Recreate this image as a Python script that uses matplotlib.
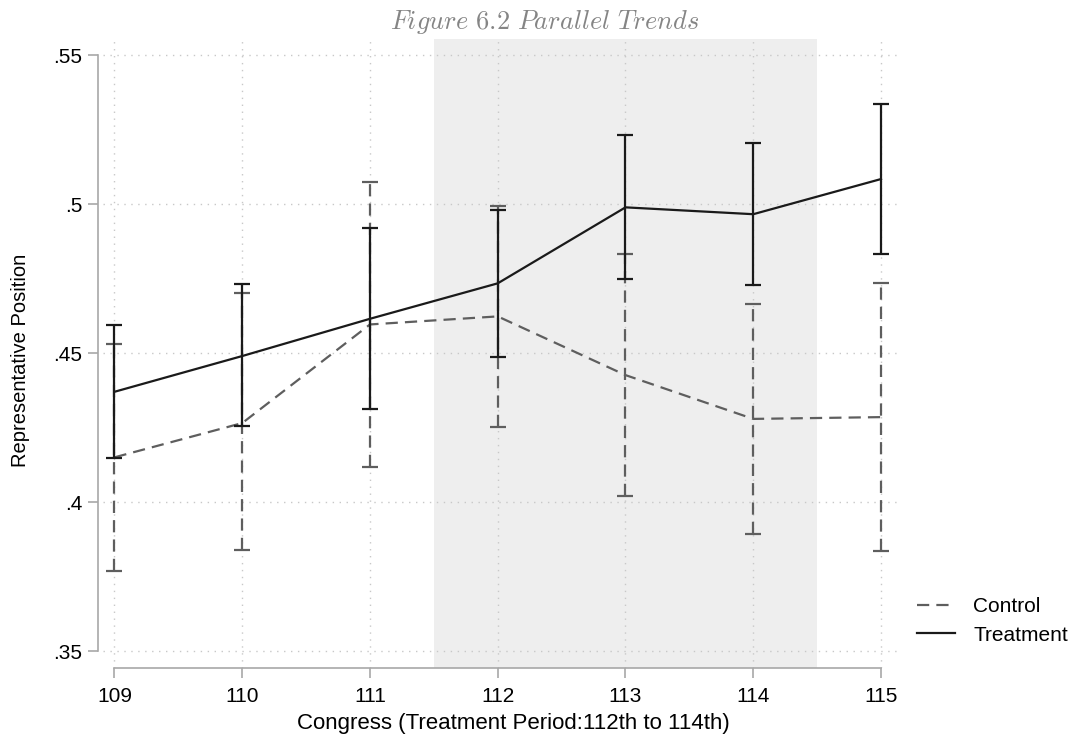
import matplotlib
matplotlib.use("Agg")
import matplotlib.pyplot as plt
from matplotlib.lines import Line2D
import numpy as np

plt.rcParams['font.family'] = ['Liberation Sans', 'DejaVu Sans']
plt.rcParams['mathtext.fontset'] = 'cm'

# Congress sessions and estimated representative positions with 95% CIs
congress = [109, 110, 111, 112, 113, 114, 115]
xtick_labels = ['109', '110', '111', '112', '113', '114', '115']

treat_mean = [0.437, 0.449, 0.4615, 0.4734, 0.4989, 0.4966, 0.5084]
treat_lo = [0.4148, 0.4255, 0.4311, 0.4488, 0.4747, 0.4729, 0.4832]
treat_hi = [0.4594, 0.4732, 0.4920, 0.4981, 0.5232, 0.5204, 0.5336]

ctrl_mean = [0.4150, 0.4265, 0.4596, 0.4623, 0.4426, 0.4279, 0.4285]
ctrl_lo = [0.3768, 0.3840, 0.4116, 0.4251, 0.4019, 0.3894, 0.3835]
ctrl_hi = [0.4531, 0.4700, 0.5075, 0.4994, 0.4832, 0.4664, 0.4736]

yticks = [0.35, 0.40, 0.45, 0.50, 0.55]
ytick_labels = ['.35', '.4', '.45', '.5', '.55']

treatment_window = (111.5, 114.5)

W, H = 1070, 737
fig = plt.figure(figsize=(W / 100, H / 100), dpi=100)
ax = fig.add_axes([98 / W, 1 - 668 / H, (898 - 98) / W, (668 - 39) / H])

ax.set_xlim(108.871, 115.133)
ax.set_ylim(0.3443, 0.5554)

# treatment period shading
ax.axvspan(*treatment_window, color='#eeeeee', zorder=0, lw=0)

# dotted grid
for y in yticks:
    ax.axhline(y, xmin=0.006, color='#c8c8c8', lw=1.0, ls=(0, (1, 4)), zorder=1)
for x in congress:
    ax.axvline(x, ymax=0.998, color='#c8c8c8', lw=1.0, ls=(0, (1, 4)), zorder=1)

def draw_series(mean, lo, hi, color, ls, label, z):
    mean = np.asarray(mean)
    yerr = [mean - np.asarray(lo), np.asarray(hi) - mean]
    line, caps, bars = ax.errorbar(congress, mean, yerr=yerr, color=color,
                                   lw=1.6, elinewidth=1.6, capsize=5.5,
                                   capthick=1.6, ls=ls, label=label, zorder=z)
    for b in bars:
        b.set_linestyle(ls)
    return line

dash = (0, (5.5, 3.2))
draw_series(ctrl_mean, ctrl_lo, ctrl_hi, '#5e5e5e', dash, 'Control', 3)
draw_series(treat_mean, treat_lo, treat_hi, '#1a1a1a', '-', 'Treatment', 4)

# axes styling
for s in ['top', 'right']:
    ax.spines[s].set_visible(False)
for s in ['left', 'bottom']:
    ax.spines[s].set_color('#a8a8a8')
    ax.spines[s].set_linewidth(1.2)
ax.spines['left'].set_bounds(0.35, 0.55)
ax.spines['bottom'].set_bounds(109, 115)

ax.set_yticks(yticks)
ax.set_yticklabels(ytick_labels)
ax.set_xticks(congress)
ax.set_xticklabels(xtick_labels)
ax.tick_params(axis='both', direction='out', length=7, width=1.2,
               color='#a8a8a8', labelsize=15, labelcolor='black')
ax.tick_params(axis='x', pad=6.5)
ax.tick_params(axis='y', pad=4.5)

ax.set_xlabel('Congress (Treatment Period:112th to 114th)', fontsize=16,
              va='top', ha='center')
ax.xaxis.set_label_coords((513 - 98) / 800, -(713 - 668) / 629)
ax.set_ylabel('Representative Position', fontsize=14.5, va='center', ha='center')
ax.yaxis.set_label_coords((21 - 98) / 800, (668 - 360) / 629)

fig.text(545 / W, 1 - 22 / H, r'$\mathit{Figure\ 6.2\ Parallel\ Trends}$',
         ha='center', va='center', fontsize=19, color='#858585')

leg_handles = [Line2D([], [], color='#5e5e5e', lw=1.6, ls=dash),
               Line2D([], [], color='#1a1a1a', lw=1.6, ls='-')]
fig.legend(leg_handles, ['Control', 'Treatment'], loc='center left',
           bbox_to_anchor=(917 / W, 1 - 621 / H), frameon=False,
           fontsize=15, handlelength=1.8, handletextpad=0.9,
           labelspacing=0.45, borderpad=0, borderaxespad=0)

fig.savefig('out.png', dpi=100)
